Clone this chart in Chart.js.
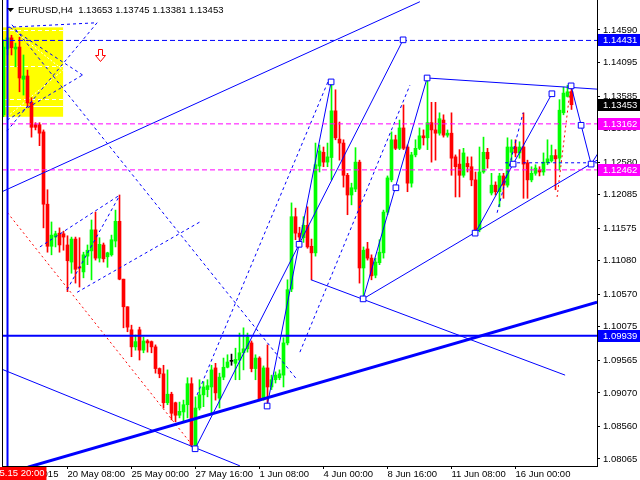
<!DOCTYPE html>
<html>
<head>
<meta charset="utf-8">
<script src="https://cdn.jsdelivr.net/npm/chart.js@4.4.0/dist/chart.umd.min.js"></script>
<style>
  html, body { margin: 0; padding: 0; background: #ffffff; }
  #wrap { width: 640px; height: 480px; }
</style>
</head>
<body>
<div id="wrap"><canvas id="chart" width="640" height="480"></canvas></div>
<script>
// EURUSD H4 bars, first visible bar has index -1
const symbolName = 'EURUSD,H4';
const firstBar = -1;
const barOpen = [
  1.1330, 1.1430, 1.1447, 1.1430, 1.1433, 1.1384, 1.1389, 1.1349, 1.1315, 1.1315,
  1.1304, 1.1194, 1.1130, 1.1144, 1.1150, 1.1149, 1.1132, 1.1106, 1.1141, 1.1098,
  1.1091, 1.1115, 1.1123, 1.1155, 1.1112, 1.1132, 1.1114, 1.1117, 1.1138, 1.1168,
  1.1080, 1.1038, 1.1003, 1.0977, 1.1003, 1.0972, 1.0986, 1.0985, 1.0977, 1.0944,
  1.0936, 1.0892, 1.0905, 1.0892, 1.0873, 1.0878, 1.0889, 1.0921, 1.0825, 1.0884,
  1.0904, 1.0912, 1.0916, 1.0945, 1.0899, 1.0931, 1.0946, 1.0955, 1.0952, 1.0957,
  1.0968, 1.0974, 1.0983, 1.0944, 1.0960, 1.0898, 1.0945, 1.0916, 1.0927, 1.0930,
  1.0934, 1.0983, 1.1065, 1.1175, 1.1150, 1.1143, 1.1162, 1.1130, 1.1120, 1.1252,
  1.1273, 1.1258, 1.1265, 1.1336, 1.1293, 1.1287, 1.1238, 1.1208, 1.1217, 1.1258,
  1.1097, 1.1126, 1.1112, 1.1086, 1.1105, 1.1120, 1.1182, 1.1231, 1.1292, 1.1279,
  1.1310, 1.1281, 1.1226, 1.1269, 1.1279, 1.1298, 1.1295, 1.1318, 1.1307, 1.1302,
  1.1322, 1.1299, 1.1302, 1.1266, 1.1255, 1.1238, 1.1256, 1.1251, 1.1231, 1.1155,
  1.1243, 1.1273, 1.1211, 1.1223, 1.1213, 1.1237, 1.1223, 1.1273, 1.1281, 1.1272,
  1.1281, 1.1257, 1.1231, 1.1241, 1.1246, 1.1243, 1.1257, 1.1260, 1.1268, 1.1264,
  1.1333, 1.1358, 1.13653
];
const barHigh = [
  1.1444, 1.1459, 1.1451, 1.1439, 1.1448, 1.1421, 1.1398, 1.1356, 1.1318, 1.1318,
  1.1307, 1.1216, 1.1167, 1.1153, 1.1158, 1.1153, 1.1146, 1.1144, 1.1144, 1.1143,
  1.1121, 1.1132, 1.1170, 1.1182, 1.1143, 1.1135, 1.1121, 1.1147, 1.1185, 1.1208,
  1.1080, 1.1038, 1.1010, 1.0995, 1.1007, 1.0992, 1.0988, 1.0986, 1.0980, 1.0945,
  1.0949, 1.0942, 1.0908, 1.0893, 1.0893, 1.0896, 1.0930, 1.0930, 1.0901, 1.0927,
  1.0924, 1.0927, 1.0949, 1.0952, 1.0937, 1.0960, 1.0965, 1.0966, 1.0975, 1.0998,
  1.1006, 1.0998, 1.0986, 1.0965, 1.0962, 1.0948, 1.0980, 1.0934, 1.0939, 1.0942,
  1.0991, 1.1079, 1.1196, 1.1188, 1.1159, 1.1175, 1.1190, 1.1141, 1.1287, 1.1284,
  1.1281, 1.1287, 1.1380, 1.1368, 1.1319, 1.1292, 1.1241, 1.1226, 1.1280, 1.1261,
  1.1129, 1.1136, 1.1117, 1.1112, 1.1140, 1.1185, 1.1237, 1.1304, 1.1299, 1.1322,
  1.1345, 1.1284, 1.1273, 1.1292, 1.1310, 1.1307, 1.1386, 1.1349, 1.1349, 1.1333,
  1.1330, 1.1307, 1.1333, 1.1269, 1.1277, 1.1279, 1.1266, 1.1266, 1.1243, 1.1281,
  1.1296, 1.1279, 1.1241, 1.1228, 1.1241, 1.1241, 1.1295, 1.1292, 1.1292, 1.1289,
  1.1333, 1.1261, 1.1251, 1.1254, 1.1251, 1.1272, 1.1292, 1.1284, 1.1277, 1.1353,
  1.1372, 1.1375, 1.13745
];
const barLow = [
  1.1327, 1.1421, 1.1421, 1.1403, 1.1365, 1.1360, 1.1342, 1.1296, 1.1307, 1.1283,
  1.1158, 1.1121, 1.1117, 1.1129, 1.1121, 1.1124, 1.1061, 1.1089, 1.1074, 1.1068,
  1.1082, 1.1102, 1.1079, 1.1109, 1.1106, 1.1106, 1.1098, 1.1115, 1.1129, 1.1079,
  1.1006, 1.1000, 1.0962, 1.0972, 1.0957, 1.0968, 1.0969, 1.0968, 1.0937, 1.0930,
  1.0884, 1.0889, 1.0866, 1.0863, 1.0869, 1.0863, 1.0869, 1.0825, 1.0822, 1.0881,
  1.0886, 1.0901, 1.0876, 1.0896, 1.0884, 1.0927, 1.0945, 1.0949, 1.0927, 1.0927,
  1.0942, 1.0969, 1.0939, 1.0927, 1.0895, 1.0896, 1.0887, 1.0912, 1.0922, 1.0927,
  1.0916, 1.0980, 1.1061, 1.1140, 1.1129, 1.1136, 1.1127, 1.1079, 1.1115, 1.1243,
  1.1251, 1.1251, 1.1231, 1.1292, 1.1261, 1.1220, 1.1178, 1.1193, 1.1213, 1.1074,
  1.1048, 1.1109, 1.1079, 1.1082, 1.1102, 1.1112, 1.1178, 1.1228, 1.1277, 1.1277,
  1.1277, 1.1213, 1.1220, 1.1266, 1.1277, 1.1284, 1.1277, 1.1258, 1.1261, 1.1299,
  1.1296, 1.1296, 1.1238, 1.1205, 1.1205, 1.1235, 1.1243, 1.1222, 1.1150, 1.1152,
  1.1241, 1.1249, 1.1208, 1.1208, 1.1190, 1.1203, 1.1220, 1.1258, 1.1266, 1.1264,
  1.1203, 1.1203, 1.1228, 1.1238, 1.1237, 1.1238, 1.1254, 1.1258, 1.1216, 1.1246,
  1.1330, 1.1357, 1.13381
];
const barClose = [
  1.1433, 1.1447, 1.1432, 1.1433, 1.1386, 1.1389, 1.1348, 1.1311, 1.1311, 1.1302,
  1.1194, 1.1130, 1.1147, 1.1149, 1.1132, 1.1144, 1.1108, 1.1141, 1.1095, 1.1097,
  1.1117, 1.1124, 1.1155, 1.1112, 1.1133, 1.1111, 1.1120, 1.1140, 1.1168, 1.1080,
  1.1038, 1.1007, 1.0977, 1.0985, 1.0972, 1.0986, 1.0983, 1.0977, 1.0944, 1.0936,
  1.0892, 1.0905, 1.0876, 1.0873, 1.0879, 1.0889, 1.0921, 1.0828, 1.0884, 1.0904,
  1.0916, 1.0918, 1.0942, 1.0907, 1.0931, 1.0946, 1.0954, 1.0955, 1.0958, 1.0968,
  1.0974, 1.0992, 1.0944, 1.0960, 1.0898, 1.0945, 1.0916, 1.0927, 1.0934, 1.0936,
  1.0983, 1.1064, 1.1175, 1.1150, 1.1144, 1.1162, 1.1129, 1.1120, 1.1254, 1.1275,
  1.1258, 1.1266, 1.1336, 1.1295, 1.1287, 1.1238, 1.1208, 1.1219, 1.1258, 1.1097,
  1.1124, 1.1112, 1.1085, 1.1106, 1.1121, 1.1182, 1.1234, 1.1292, 1.1279, 1.1310,
  1.1279, 1.1226, 1.1269, 1.1279, 1.1298, 1.1295, 1.1318, 1.1307, 1.1302, 1.1324,
  1.1299, 1.1302, 1.1264, 1.1251, 1.1238, 1.1272, 1.1251, 1.1231, 1.1155, 1.1243,
  1.1273, 1.1263, 1.1223, 1.1213, 1.1237, 1.1223, 1.1281, 1.1281, 1.1272, 1.1281,
  1.1255, 1.1231, 1.1241, 1.1249, 1.1243, 1.1258, 1.1263, 1.1268, 1.1263, 1.1337,
  1.1363, 1.1365, 1.13453
];

// axis ticks
const timeTickBars = [-1, 15, 31, 47, 63, 79, 95, 111, 127];
const timeTickLabels = ['15 May 2015', '20 May 08:00', '25 May 00:00', '27 May 16:00',
  '1 Jun 08:00', '4 Jun 00:00', '8 Jun 16:00', '11 Jun 08:00', '16 Jun 00:00'];
const priceTicks = [1.14590, 1.14095, 1.13585, 1.13090, 1.12580, 1.12085, 1.11575,
  1.11080, 1.10570, 1.10075, 1.09565, 1.09070, 1.08560, 1.08065];

// horizontal levels and price tags on the axis
const blueLevel = 1.14431;
const magentaLevels = [1.13162, 1.12462];
const supportLevel = 1.09939;
const tagPrices = [1.14431, 1.13453, 1.13162, 1.12462, 1.09939];
const tagColors = ['#0000ff', '#000000', '#ff00ff', '#ff00ff', '#0000ff'];

// vertical marker line
const markerBar = 0;
const markerTime = '2015.05.15 20:00';

// drawn objects, [bar, price, bar, price]
const thickTrend = [5.1, 1.0794, 147.4, 1.1045];
const solidLines = [
  [-1.375, 1.1213, 103.1, 1.1502],
  [-1.4, 1.0943, 58.1, 1.0796],
  [75.9, 1.1079, 139.4, 1.0934],
  [88.9, 1.1050, 147.4, 1.1261],
  [116.9, 1.1150, 136.1, 1.1362],
  [104.9, 1.1386, 147.4, 1.1369],
  [46.9, 1.0822, 98.9, 1.1444],
  [64.9, 1.0887, 80.9, 1.1380],
  [88.9, 1.1050, 104.9, 1.1386],
  [140.9, 1.1374, 145.9, 1.1255],
  [145.9, 1.1255, 148.1, 1.1276]
];
const dashedLines = [
  [1.1, 1.1467, 72.4, 1.0927],
  [-0.1, 1.1463, 22.4, 1.1470],
  [22.4, 1.1470, -0.6, 1.1302],
  [0.6, 1.1463, 19.4, 1.1388],
  [-0.1, 1.1322, 18.9, 1.1391],
  [8.1, 1.1129, 28.1, 1.1208],
  [14.9, 1.1064, 28.1, 1.1208],
  [17.4, 1.1060, 48.1, 1.1167],
  [47.4, 1.0904, 80.1, 1.1380],
  [73.1, 1.0969, 100.6, 1.1375],
  [122.4, 1.1181, 128.9, 1.1333],
  [124.4, 1.1257, 147.4, 1.1257]
];
const redDotted = [
  [0, 1.1181, 46.9, 1.0822],
  [137.4, 1.1205, 140.6, 1.1365]
];
const pivotBars = [46.9, 64.9, 72.9, 80.9, 88.9, 97.1, 98.9, 104.9, 116.9, 126.4, 136.1, 140.9, 143.4, 145.9];
const pivotPrices = [1.0822, 1.0887, 1.1133, 1.1380, 1.1050, 1.1219, 1.1444, 1.1386, 1.1150, 1.1255, 1.1362, 1.1374, 1.1314, 1.1255];

// yellow zone top left
const boxBars = [-1.125, 13.9];
const boxPrices = [1.1463, 1.1327];
const boxDashLevels = [1.1459, 1.1404, 1.1354];
const boxBaseLevel = 1.1343;
const boxFan = [
  [0.6, 1.1463, 13.9, 1.1398],
  [-0.1, 1.1327, 13.9, 1.1398]
];
const arrowBar = 23.1;
const arrowPrice = 1.1421;

const xMin = -1.375, xMax = 147.375;
const yMin = 1.07958, yMax = 1.15046;

const BLUE = '#0000ff', MAGENTA = '#ff00ff', RED = '#ff0000';
const FONT_FAMILY = '"Liberation Sans", Arial, sans-serif';
const FONT_SIZE = 9.5;

const barIndex = barOpen.map((_, k) => firstBar + k);
const barColors = barOpen.map((o, k) => barClose[k] > o ? '#00ff00' : (barClose[k] < o ? RED : '#000000'));

function segDataset(seg, color, width, dash) {
  return {
    type: 'line',
    data: [{ x: seg[0], y: seg[1] }, { x: seg[2], y: seg[3] }],
    borderColor: color,
    borderWidth: width,
    borderDash: dash || [],
    pointRadius: 0,
    fill: false,
    tension: 0,
    order: 1
  };
}

const datasets = [];
datasets.push(segDataset([xMin, blueLevel, xMax, blueLevel], BLUE, 1, [5, 3]));
magentaLevels.forEach(p => datasets.push(segDataset([xMin, p, xMax, p], MAGENTA, 1, [5, 3])));
datasets.push(segDataset([xMin, supportLevel, xMax, supportLevel], BLUE, 2));
datasets.push(segDataset([markerBar, yMin, markerBar, yMax], BLUE, 2));
datasets.push(segDataset(thickTrend, BLUE, 3));
solidLines.forEach(s => datasets.push(segDataset(s, BLUE, 1)));
dashedLines.forEach(s => datasets.push(segDataset(s, BLUE, 1, [3, 3])));
redDotted.forEach(s => datasets.push(segDataset(s, RED, 1, [2, 3])));

datasets.push({
  type: 'line',
  data: pivotBars.map((b, k) => ({ x: b, y: pivotPrices[k] })),
  showLine: false,
  pointStyle: 'rect',
  pointRadius: 4,
  pointBorderWidth: 1,
  pointBorderColor: BLUE,
  pointBackgroundColor: '#ffffff',
  order: 0
});

// candles: wick then body
datasets.push({
  type: 'bar',
  data: barIndex.map((b, k) => ({ x: b, y: [barLow[k], barHigh[k]] })),
  backgroundColor: barColors,
  barThickness: 1,
  grouped: false,
  order: 3
});
datasets.push({
  type: 'bar',
  data: barIndex.map((b, k) => ({ x: b, y: [barOpen[k], barClose[k]] })),
  backgroundColor: barColors,
  barThickness: 3,
  minBarLength: 1,
  grouped: false,
  order: 2
});

const mtOverlay = {
  id: 'mtOverlay',
  beforeDatasetsDraw(chart) {
    const { ctx, scales: { x, y } } = chart;
    ctx.save();
    const bx0 = x.getPixelForValue(boxBars[0]);
    const bx1 = x.getPixelForValue(boxBars[1]);
    const by0 = y.getPixelForValue(boxPrices[0]);
    const by1 = y.getPixelForValue(boxPrices[1]);
    ctx.fillStyle = '#ffff00';
    ctx.fillRect(bx0, by0, bx1 - bx0, by1 - by0);
    ctx.strokeStyle = '#ffffff';
    ctx.lineWidth = 1;
    ctx.setLineDash([4, 3]);
    boxDashLevels.forEach(p => {
      const py = Math.round(y.getPixelForValue(p)) + 0.5;
      ctx.beginPath(); ctx.moveTo(bx0, py); ctx.lineTo(bx1, py); ctx.stroke();
    });
    ctx.setLineDash([2, 2]);
    boxFan.forEach(s => {
      ctx.beginPath();
      ctx.moveTo(x.getPixelForValue(s[0]), y.getPixelForValue(s[1]));
      ctx.lineTo(x.getPixelForValue(s[2]), y.getPixelForValue(s[3]));
      ctx.stroke();
    });
    ctx.setLineDash([]);
    const pyb = Math.round(y.getPixelForValue(boxBaseLevel)) + 0.5;
    ctx.beginPath(); ctx.moveTo(bx0, pyb); ctx.lineTo(bx1, pyb); ctx.stroke();
    ctx.restore();
  },
  afterDatasetsDraw(chart) {
    const { ctx, scales: { x, y } } = chart;
    // outlined down arrow
    const ax = Math.round(x.getPixelForValue(arrowBar)) + 0.5;
    const ay = Math.round(y.getPixelForValue(arrowPrice)) + 0.5;
    ctx.save();
    ctx.beginPath();
    ctx.moveTo(ax - 2, ay - 6); ctx.lineTo(ax + 2, ay - 6); ctx.lineTo(ax + 2, ay);
    ctx.lineTo(ax + 5, ay); ctx.lineTo(ax, ay + 6); ctx.lineTo(ax - 5, ay);
    ctx.lineTo(ax - 2, ay); ctx.closePath();
    ctx.fillStyle = '#ffffff'; ctx.fill();
    ctx.strokeStyle = RED; ctx.lineWidth = 1; ctx.stroke();
    ctx.restore();
  },
  afterDraw(chart) {
    const { ctx, chartArea, scales: { x, y } } = chart;
    ctx.save();
    ctx.font = FONT_SIZE + 'px ' + FONT_FAMILY;
    ctx.textBaseline = 'middle';

    // left frame
    ctx.fillStyle = '#000000';
    ctx.fillRect(Math.round(chartArea.left), 0, 1, chartArea.bottom);

    // price tags
    tagPrices.forEach((p, k) => {
      const py = Math.round(y.getPixelForValue(p));
      ctx.fillStyle = tagColors[k];
      ctx.fillRect(chartArea.right + 1, py - 6, chart.width - chartArea.right - 1, 12);
      ctx.fillStyle = '#ffffff';
      ctx.textAlign = 'left';
      ctx.fillText(p.toFixed(5), chartArea.right + 6, py);
    });

    // time tag of the vertical line
    const tx = x.getPixelForValue(markerBar);
    const tw = ctx.measureText(markerTime).width + 4;
    ctx.fillStyle = RED;
    ctx.fillRect(tx - tw / 2, chartArea.bottom + 1, tw, 13);
    ctx.fillStyle = '#ffffff';
    ctx.textAlign = 'center';
    ctx.fillText(markerTime, tx, chartArea.bottom + 7.5);

    // title
    const last = barOpen.length - 1;
    const title = symbolName + '  ' + [barOpen[last], barHigh[last], barLow[last], barClose[last]]
      .map(v => v.toFixed(5)).join(' ');
    ctx.fillStyle = '#000000';
    ctx.beginPath();
    ctx.moveTo(7, 8); ctx.lineTo(14, 8); ctx.lineTo(10.5, 12); ctx.closePath();
    ctx.fill();
    ctx.textAlign = 'left';
    ctx.fillText(title, 18, 10.5);
    ctx.restore();
  }
};

new Chart(document.getElementById('chart'), {
  type: 'bar',
  data: { datasets: datasets },
  options: {
    responsive: false,
    animation: false,
    events: [],
    layout: { autoPadding: false, padding: { left: 2, right: 0, top: 0, bottom: 0 } },
    plugins: { legend: { display: false }, tooltip: { enabled: false } },
    scales: {
      x: {
        type: 'linear',
        min: xMin,
        max: xMax,
        offset: false,
        grid: { offset: false, drawOnChartArea: false, tickLength: 3, color: '#000000' },
        border: { color: '#000000' },
        afterBuildTicks: s => { s.ticks = timeTickBars.map(v => ({ value: v })); },
        afterFit: s => { s.height = 14; s.paddingLeft = 0; s.paddingRight = 0; },
        ticks: {
          autoSkip: false,
          maxRotation: 0,
          align: 'start',
          padding: 0,
          color: '#000000',
          font: { family: FONT_FAMILY, size: FONT_SIZE },
          callback: (v, i) => timeTickLabels[i]
        }
      },
      y: {
        type: 'linear',
        position: 'right',
        min: yMin,
        max: yMax,
        beginAtZero: false,
        grid: { drawOnChartArea: false, tickLength: 3, color: '#000000' },
        border: { color: '#000000' },
        afterBuildTicks: s => { s.ticks = priceTicks.map(v => ({ value: v })); },
        afterFit: s => { s.width = 43; s.paddingTop = 0; s.paddingBottom = 0; },
        ticks: {
          autoSkip: false,
          padding: 3,
          color: '#000000',
          font: { family: FONT_FAMILY, size: FONT_SIZE },
          callback: v => v.toFixed(5)
        }
      }
    }
  },
  plugins: [mtOverlay]
});
</script>
</body>
</html>
